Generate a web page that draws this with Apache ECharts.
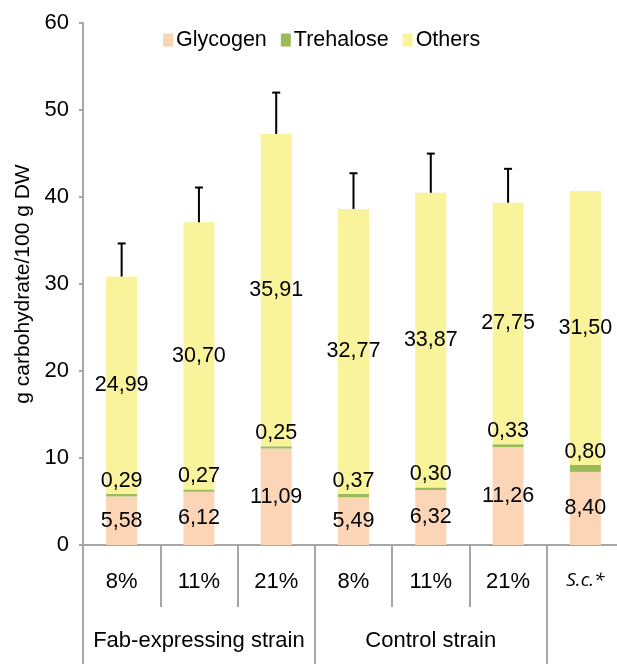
<!DOCTYPE html>
<html>
<head>
<meta charset="utf-8">
<script src="https://cdn.jsdelivr.net/npm/echarts@6/dist/echarts.min.js"></script>
<style>
  html, body { margin: 0; padding: 0; background: #fff; overflow: hidden; }
  #chart { width: 617px; height: 664px; }
</style>
</head>
<body>
<div id="chart"></div>
<script>
var categories = ['8%', '11%', '21%', '8%', '11%', '21%', 'S.c.*'];
var groups = ['', 'Fab-expressing strain', '', '', 'Control strain', '', ''];
var glycogen = [5.58, 6.12, 11.09, 5.49, 6.32, 11.26, 8.40];
var trehalose = [0.29, 0.27, 0.25, 0.37, 0.30, 0.33, 0.80];
var others = [24.99, 30.70, 35.91, 32.77, 33.87, 27.75, 31.50];
// upper error (absolute), none for S.c.
var errors = [3.8, 4.0, 4.75, 4.1, 4.5, 3.9, null];

var FONT = 'Liberation Sans, Arial, sans-serif';
var FS = 22;
var gray = '#a6a6a6';

function fmt(p) {
  return p.value.toFixed(2).replace('.', ',');
}

var totals = glycogen.map(function (g, i) { return g + trehalose[i] + others[i]; });
var errData = totals.map(function (t, i) { return [i, t, errors[i]]; });

var chart = echarts.init(document.getElementById('chart'));

var labelBase = { show: true, color: '#000', fontSize: 21.5, fontFamily: FONT, formatter: fmt };

chart.setOption({
  animation: false,
  textStyle: { fontFamily: FONT },
  legend: {
    top: 24,
    left: 158,
    itemWidth: 10,
    itemHeight: 13,
    itemGap: 14,
    icon: 'rect',
    textStyle: { fontSize: 21.5, color: '#000', fontFamily: FONT, padding: [0, 0, 0, -2] },
    data: ['Glycogen', 'Trehalose', 'Others']
  },
  grid: { left: 83, width: 541, top: 23, bottom: 119, containLabel: false, outerBoundsMode: 'none' },
  xAxis: [{
    type: 'category',
    data: categories,
    axisLine: { lineStyle: { color: gray, width: 2 } },
    axisTick: { show: true, interval: 0, length: 62, lineStyle: { color: gray, width: 2 } },
    axisLabel: {
      interval: 0, margin: 26, fontSize: FS, color: '#000', fontFamily: FONT,
      formatter: function (v) { return v === 'S.c.*' ? '{sc|S.c.*}' : v; },
      rich: { sc: { fontStyle: 'italic', fontSize: 19, fontFamily: 'Open Sans, sans-serif', color: '#000' } }
    }
  }, {
    type: 'category',
    data: groups,
    position: 'bottom',
    offset: 62,
    axisLine: { show: false },
    axisTick: {
      show: true, length: 60,
      interval: function (i) { return i === 0 || i === 3 || i === 6; },
      lineStyle: { color: gray, width: 2 }
    },
    axisLabel: { interval: 0, margin: 23, fontSize: FS, color: '#000', fontFamily: FONT }
  }],
  yAxis: {
    type: 'value',
    min: 0, max: 60, interval: 10,
    name: 'g carbohydrate/100 g DW',
    nameLocation: 'middle',
    nameGap: 46,
    nameTextStyle: { fontSize: 21, color: '#000', fontFamily: FONT },
    axisLine: { show: true, lineStyle: { color: gray, width: 2 } },
    axisTick: { show: true, length: 4, lineStyle: { color: gray, width: 2 } },
    axisLabel: { fontSize: FS, color: '#000', margin: 14, fontFamily: FONT },
    splitLine: { show: false }
  },
  series: [{
    name: 'Glycogen', type: 'bar', stack: 'c', barWidth: 31,
    data: glycogen,
    itemStyle: { color: '#fbd5b5' },
    label: Object.assign({ position: 'inside' }, labelBase)
  }, {
    name: 'Trehalose', type: 'bar', stack: 'c', barWidth: 31,
    data: trehalose,
    itemStyle: { color: '#9bbb59' },
    label: Object.assign({ position: 'top', distance: 2 }, labelBase)
  }, {
    name: 'Others', type: 'bar', stack: 'c', barWidth: 31,
    data: others,
    itemStyle: { color: '#f9f39b' },
    label: Object.assign({ position: 'inside' }, labelBase)
  }, {
    type: 'custom',
    name: 'error',
    data: errData,
    z: 10,
    renderItem: function (params, api) {
      var e = api.value(2);
      if (e == null || isNaN(e)) return null;
      var x = api.value(0), t = api.value(1);
      var p0 = api.coord([x, t]);
      var p1 = api.coord([x, t + e]);
      var st = { stroke: '#000', lineWidth: 2 };
      return {
        type: 'group',
        children: [
          { type: 'line', shape: { x1: p0[0], y1: p0[1], x2: p1[0], y2: p1[1] }, style: st },
          { type: 'line', shape: { x1: p1[0] - 4, y1: p1[1], x2: p1[0] + 4, y2: p1[1] }, style: st }
        ]
      };
    }
  }]
});
</script>
</body>
</html>
